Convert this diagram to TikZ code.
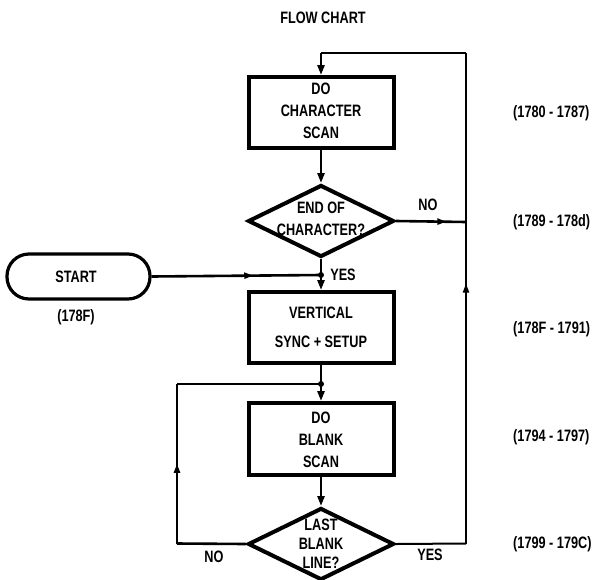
\documentclass[tikz,border=0pt]{standalone}
\usepackage{fontspec}
\setmainfont{Liberation Sans}[FakeStretch=0.77]
\usetikzlibrary{shapes.geometric,arrows.meta,decorations.markings}
\begin{document}
\begin{tikzpicture}[x=1pt,y=-1pt,
  every node/.style={font=\fontsize{16.5}{19}\selectfont\bfseries},
  procbox/.style={draw,line width=4pt,minimum width=145pt,minimum height=71pt,inner sep=0pt,align=center},
  decbox/.style={draw,diamond,line width=4pt,minimum width=146pt,minimum height=72pt,inner sep=0pt},
  termbox/.style={draw,line width=3.2pt,rounded corners=22pt,minimum width=143pt,minimum height=45pt,inner sep=0pt},
  txt/.style={inner sep=0pt,align=center},
  addr/.style={anchor=west,inner sep=0pt},
  conn/.style={line width=2.6pt},
  thin conn/.style={line width=2pt},
  tip/.style={-{Triangle[length=10pt,width=7pt]}},
  midarrow/.style={postaction={decorate},decoration={markings,
     mark=at position #1 with {\arrow{Triangle[length=9pt,width=6pt]}}}},
  jdot/.style={circle,fill,inner sep=0pt,minimum size=6pt}
]
\useasboundingbox (0,0) rectangle (599,579);

\node[txt] (title) at (323,18) {FLOW CHART};

\node[procbox] (c1) at (321,112.5) {};
\node[txt] (c1t) at (321,111) {DO\\[3pt]CHARACTER\\[3pt]SCAN};
\node[decbox] (d1) at (321,221) {};
\node[txt] (d1t) at (321,219) {END OF\\[3pt]CHARACTER?};
\node[termbox] (start) at (78.5,276.5) {};
\node[txt] (startt) at (76,277) {START};
\node[txt] (startaddr) at (76,317) {(178F)};
\node[procbox] (b2) at (321,327.5) {};
\node[txt] (b2t) at (321,327.5) {VERTICAL\\[10pt]SYNC + SETUP};
\node[procbox,minimum height=72pt] (b3) at (321,439) {};
\node[txt] (b3t) at (321,439.5) {DO\\[3pt]BLANK\\[3pt]SCAN};
\node[decbox] (d2) at (321,544) {};
\node[txt] (d2t) at (321,544) {LAST\\[0pt]BLANK\\[0pt]LINE?};

\coordinate (j1) at (321,275);
\coordinate (j2) at (321,384);
\coordinate (rt) at (466,53);
\coordinate (ct) at (321,53);
\coordinate (rn) at (466,222);
\coordinate (rb) at (466,543.5);
\coordinate (lb) at (177,543.5);
\coordinate (lt) at (177,384);

% labels
\node[txt] (yes1) at (343,275) {YES};
\node[txt] (no1) at (428,205) {NO};
\node[txt] (no2) at (214,557) {NO};
\node[txt] (yes2) at (430,555) {YES};
\node[addr] (a1) at (513,113) {(1780 - 1787)};
\node[addr] (a2) at (513,222) {(1789 - 178d)};
\node[addr] (a3) at (513,329) {(178F - 1791)};
\node[addr] (a4) at (513,437) {(1794 - 1797)};
\node[addr] (a5) at (513,544) {(1799 - 179C)};

% connectors
\draw[conn,tip] (c1.south) -- (d1.north);
\draw[conn] (d1.south) -- (j1);
\draw[conn,midarrow=0.6] (start.east) -- (j1);
\draw[conn,tip] (j1) -- (b2.north);
\node[jdot] (j1d) at (j1) {};
\draw[conn] (b2.south) -- (j2);
\draw[conn,tip] (j2) -- (b3.north);
\node[jdot] (j2d) at (j2) {};
\draw[conn,tip] (b3.south) -- (d2.north);
\draw[conn,midarrow=0.72] (d1.east) -- (rn);
\draw[conn] (d2.west) -- (lb);
\draw[conn,midarrow=0.5] (lb) -- (lt);
\draw[conn] (lt) -- (j2);
\draw[thin conn] (d2.east) -- (rb);
\draw[thin conn,midarrow=0.53] (rb) -- (rt);
\draw[thin conn] (rt) -- (ct);
\draw[conn,tip] (ct) -- (c1.north);
\end{tikzpicture}
\end{document}
